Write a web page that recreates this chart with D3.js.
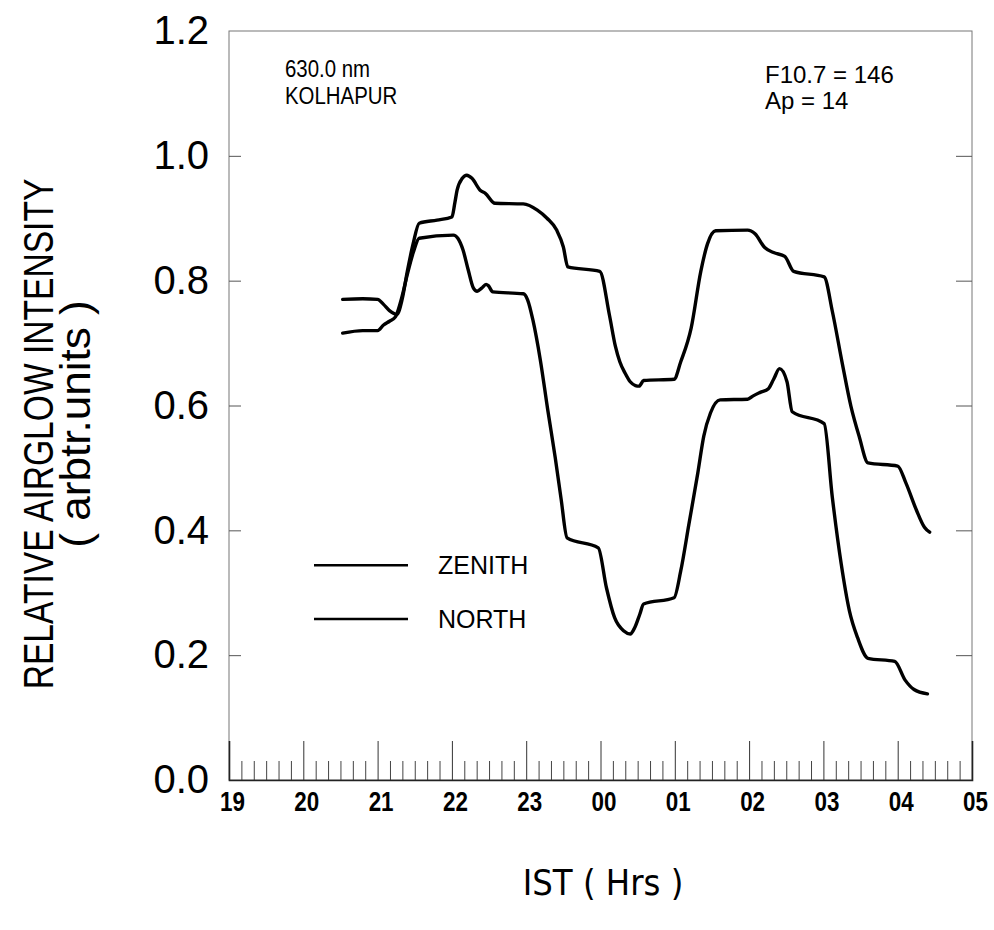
<!DOCTYPE html>
<html>
<head>
<meta charset="utf-8">
<script src="https://cdn.jsdelivr.net/npm/d3@7"></script>
<style>
  html, body { margin: 0; padding: 0; background: #fff; }
  svg { display: block; }
</style>
</head>
<body>
<svg id="chart" width="994" height="930"></svg>
<script>
// ---- Data (hours counted continuously from 19 IST; 24 = 00, 25 = 01 ...) ----
const xTickHours = [19, 20, 21, 22, 23, 24, 25, 26, 27, 28, 29];
const xTickLabels = ["19", "20", "21", "22", "23", "00", "01", "02", "03", "04", "05"];
const yTickValues = [0, 0.2, 0.4, 0.6, 0.8, 1.0, 1.2];

const zenithHours = [20.53, 20.80, 21.00, 21.08, 21.16, 21.26, 21.33, 21.40, 21.48, 21.56, 21.80, 22.00, 22.04, 22.07, 22.14, 22.20, 22.27, 22.38, 22.45, 22.58, 22.96, 23.15, 23.28, 23.41, 23.50, 23.56, 23.99, 24.12, 24.20, 24.26, 24.33, 24.40, 24.47, 24.52, 24.58, 24.99, 25.08, 25.22, 25.35, 25.44, 25.55, 25.98, 26.08, 26.21, 26.33, 26.48, 26.60, 27.01, 27.12, 27.25, 27.37, 27.48, 27.60, 28.00, 28.11, 28.25, 28.36, 28.43];
const zenithValues = [0.770, 0.771, 0.770, 0.762, 0.752, 0.746, 0.770, 0.815, 0.860, 0.892, 0.897, 0.902, 0.925, 0.945, 0.964, 0.969, 0.964, 0.945, 0.940, 0.924, 0.923, 0.913, 0.900, 0.881, 0.854, 0.822, 0.815, 0.745, 0.695, 0.670, 0.652, 0.638, 0.632, 0.631, 0.640, 0.642, 0.670, 0.724, 0.815, 0.859, 0.880, 0.881, 0.875, 0.853, 0.845, 0.839, 0.815, 0.806, 0.751, 0.670, 0.599, 0.551, 0.508, 0.503, 0.476, 0.433, 0.405, 0.397];

const northHours = [20.53, 20.80, 21.00, 21.08, 21.16, 21.24, 21.33, 21.40, 21.48, 21.56, 22.02, 22.08, 22.15, 22.22, 22.29, 22.34, 22.40, 22.46, 22.49, 22.55, 22.96, 23.02, 23.09, 23.19, 23.29, 23.39, 23.47, 23.55, 23.97, 24.08, 24.19, 24.31, 24.40, 24.46, 24.53, 24.58, 24.99, 25.08, 25.19, 25.31, 25.39, 25.48, 25.61, 25.98, 26.05, 26.15, 26.26, 26.33, 26.41, 26.51, 26.58, 27.01, 27.12, 27.24, 27.35, 27.46, 27.60, 27.96, 28.10, 28.22, 28.40];
const northValues = [0.716, 0.720, 0.720, 0.729, 0.735, 0.742, 0.775, 0.810, 0.845, 0.868, 0.873, 0.868, 0.849, 0.817, 0.788, 0.783, 0.788, 0.794, 0.792, 0.782, 0.779, 0.769, 0.737, 0.673, 0.593, 0.517, 0.450, 0.388, 0.372, 0.308, 0.260, 0.239, 0.234, 0.244, 0.266, 0.282, 0.292, 0.335, 0.410, 0.492, 0.551, 0.588, 0.609, 0.610, 0.615, 0.621, 0.627, 0.642, 0.659, 0.638, 0.590, 0.571, 0.453, 0.346, 0.271, 0.228, 0.195, 0.190, 0.160, 0.145, 0.138];

const seriesNames = ["ZENITH", "NORTH"];
const infoLeft = ["630.0 nm", "KOLHAPUR"];
const infoRight = ["F10.7 = 146", "Ap = 14"];

// ---- Layout ----
const svg = d3.select("#chart");
const plotLeft = 229, plotRight = 972, plotTop = 31, plotBottom = 780;
const FONT = "'Liberation Sans', Arial, sans-serif";

const x = d3.scaleLinear().domain([19, 29]).range([plotLeft, plotRight]);
const y = d3.scaleLinear().domain([0, 1.2]).range([plotBottom, plotTop]);

// frame (top, left, right) - thin grey
svg.append("rect")
  .attr("x", plotLeft).attr("y", plotTop)
  .attr("width", plotRight - plotLeft).attr("height", plotBottom - plotTop)
  .attr("fill", "none").attr("stroke", "#777").attr("stroke-width", 1);

// minor x ticks every 10 minutes
const minorHours = [];
for (let h = 19; h < 29; h++) { for (let m = 1; m < 6; m++) minorHours.push(h + m / 6); }

const xMinor = d3.axisBottom(x).tickValues(minorHours).tickSize(-19).tickFormat("");
svg.append("g").attr("transform", `translate(0,${plotBottom})`).call(xMinor)
  .call(g => g.select(".domain").remove())
  .call(g => g.selectAll("line").attr("stroke", "#444").attr("stroke-width", 1));

const xMajor = d3.axisBottom(x).tickValues(xTickHours).tickSize(-39).tickPadding(11)
  .tickFormat((d, i) => xTickLabels[i]);
svg.append("g").attr("transform", `translate(0,${plotBottom})`).call(xMajor)
  .call(g => g.select(".domain").attr("stroke", "#222").attr("stroke-width", 1.6))
  .call(g => g.selectAll("line").attr("stroke", "#333").attr("stroke-width", 1)
     .filter(d => d === 19 || d === 29).remove())
  .call(g => g.selectAll("text")
     .attr("font-family", FONT)
     .attr("font-weight", "bold").attr("font-size", 28).attr("fill", "#000")
     .attr("transform", "translate(3,0) scale(0.8,1)"));

// y axes (left with labels, right ticks only)
const yLeftAxis = d3.axisLeft(y).tickValues(yTickValues).tickSize(-12).tickPadding(20)
  .tickFormat(d3.format(".1f"));
svg.append("g").attr("transform", `translate(${plotLeft},0)`).call(yLeftAxis)
  .call(g => g.select(".domain").remove())
  .call(g => g.selectAll("line").attr("stroke", "#555").attr("stroke-width", 1)
     .filter(d => d === 0 || d === 1.2).remove())
  .call(g => g.selectAll("text")
     .attr("font-family", FONT)
     .attr("font-size", 40).attr("fill", "#000"));

const yRightAxis = d3.axisRight(y).tickValues(yTickValues).tickSize(-16).tickFormat("");
svg.append("g").attr("transform", `translate(${plotRight},0)`).call(yRightAxis)
  .call(g => g.select(".domain").remove())
  .call(g => g.selectAll("line").attr("stroke", "#555").attr("stroke-width", 1)
     .filter(d => d === 0 || d === 1.2).remove());

// lines
const line = d3.line().x(d => x(d[0])).y(d => y(d[1])).curve(d3.curveMonotoneX);
const zenithData = zenithHours.map((h, i) => [h, zenithValues[i]]);
const northData = northHours.map((h, i) => [h, northValues[i]]);
[zenithData, northData].forEach(data => {
  svg.append("path").datum(data).attr("d", line)
    .attr("fill", "none").attr("stroke", "#000").attr("stroke-width", 3.4)
    .attr("stroke-linejoin", "round").attr("stroke-linecap", "round");
});

// legend
const legendY = [y(0.344), y(0.258)];
seriesNames.forEach((name, i) => {
  svg.append("line").attr("x1", 314).attr("x2", 408)
    .attr("y1", legendY[i]).attr("y2", legendY[i])
    .attr("stroke", "#000").attr("stroke-width", 2.6);
  svg.append("text").attr("x", 438).attr("y", legendY[i]).attr("dy", "0.36em")
    .attr("font-family", FONT).attr("font-size", 25)
    .text(name);
});

// annotations
infoLeft.forEach((t, i) => {
  svg.append("text").attr("transform", `translate(285,${77 + i * 27}) scale(0.85,1)`)
    .attr("font-family", FONT).attr("font-size", 24)
    .text(t);
});
infoRight.forEach((t, i) => {
  svg.append("text").attr("x", 765).attr("y", 83 + i * 26)
    .attr("font-family", FONT).attr("font-size", 24)
    .text(t);
});

// axis titles
svg.append("text")
  .attr("transform", "translate(53,434) rotate(-90) scale(0.8,1)")
  .attr("text-anchor", "middle")
  .attr("font-family", FONT)
  .attr("font-size", 42)
  .text("RELATIVE AIRGLOW INTENSITY");
svg.append("text")
  .attr("transform", "translate(90,424) rotate(-90) scale(1.05,1)")
  .attr("text-anchor", "middle")
  .attr("font-family", FONT)
  .attr("font-size", 42)
  .text("( arbtr.units )");

svg.append("text")
  .attr("x", 603).attr("y", 895)
  .attr("text-anchor", "middle")
  .attr("font-family", "'DejaVu Sans Condensed', 'DejaVu Sans', sans-serif")
  .attr("font-size", 36)
  .text("IST ( Hrs )");
</script>
</body>
</html>
